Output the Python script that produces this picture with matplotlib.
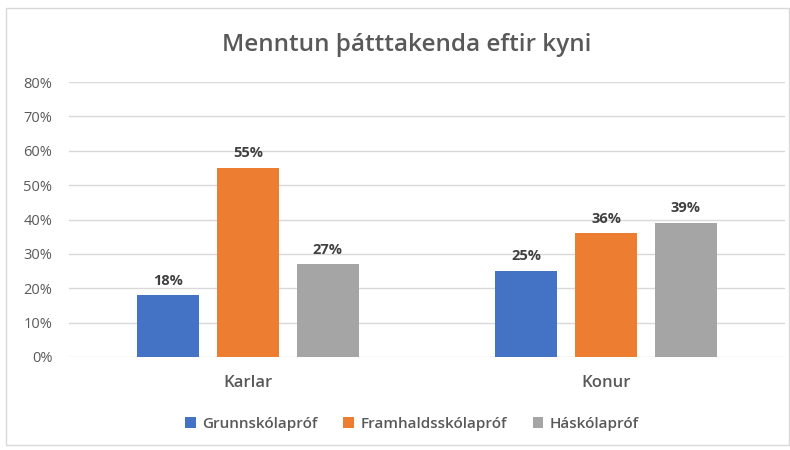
import matplotlib.pyplot as plt
import numpy as np
from matplotlib.patches import Rectangle

# Data
groups = ["Karlar", "Konur"]
series = ["Grunnskólapróf", "Framhaldsskólapróf", "Háskólapróf"]
grunn = [18, 25]
framh = [55, 36]
hask = [27, 39]
colors = ["#4472C4", "#ED7D31", "#A5A5A5"]

plt.rcParams['font.family'] = ['Open Sans', 'DejaVu Sans']

fig = plt.figure(figsize=(7.9, 4.5), dpi=100)
ax = fig.add_axes([69 / 790, 1 - 357 / 450, (785 - 69) / 790, (357 - 82) / 450])

# light frame around the chart
fig.patches.append(Rectangle((6 / 790, 5 / 450), 783 / 790, 437 / 450,
                             transform=fig.transFigure, fill=False,
                             edgecolor="#D9D9D9", linewidth=1))

x = np.arange(len(groups))
width = 0.173
step = 0.223
for i, (vals, name) in enumerate(zip([grunn, framh, hask], series)):
    bars = ax.bar(x + (i - 1) * step, vals, width, color=colors[i], label=name, zorder=3)
    for b, v in zip(bars, vals):
        ax.text(b.get_x() + b.get_width() / 2, v + 2.2, f"{v}%", ha="center", va="bottom",
                fontsize=10.5, fontweight="bold", color="#404040")

ax.set_xlim(-0.5, 1.5)
ax.set_ylim(0, 80)
ax.set_yticks(range(0, 81, 10))
ax.set_yticklabels([f"{t}%" for t in range(0, 81, 10)])
ax.set_xticks(x)
ax.set_xticklabels(groups, fontweight="semibold")
ax.tick_params(axis="y", length=0, labelsize=10.5, labelcolor="#595959", pad=12)
ax.tick_params(axis="x", length=0, labelsize=12, labelcolor="#595959", pad=13)
ax.grid(axis="y", color="#D9D9D9", linewidth=1, zorder=0)
for s in ax.spines.values():
    s.set_visible(False)

fig.text(407 / 790, 1 - 45 / 450, "Menntun þátttakenda eftir kyni", ha="center", va="center",
         fontsize=17.5, fontweight="semibold", color="#595959")

fig.legend(loc="center", bbox_to_anchor=(412 / 790, 1 - 424 / 450), ncol=3, frameon=False,
           prop={"size": 11, "weight": "semibold"}, handlelength=0.7, handleheight=0.7,
           handletextpad=0.4, columnspacing=1.7, labelcolor="#595959")

plt.savefig("out.png", dpi=100)
